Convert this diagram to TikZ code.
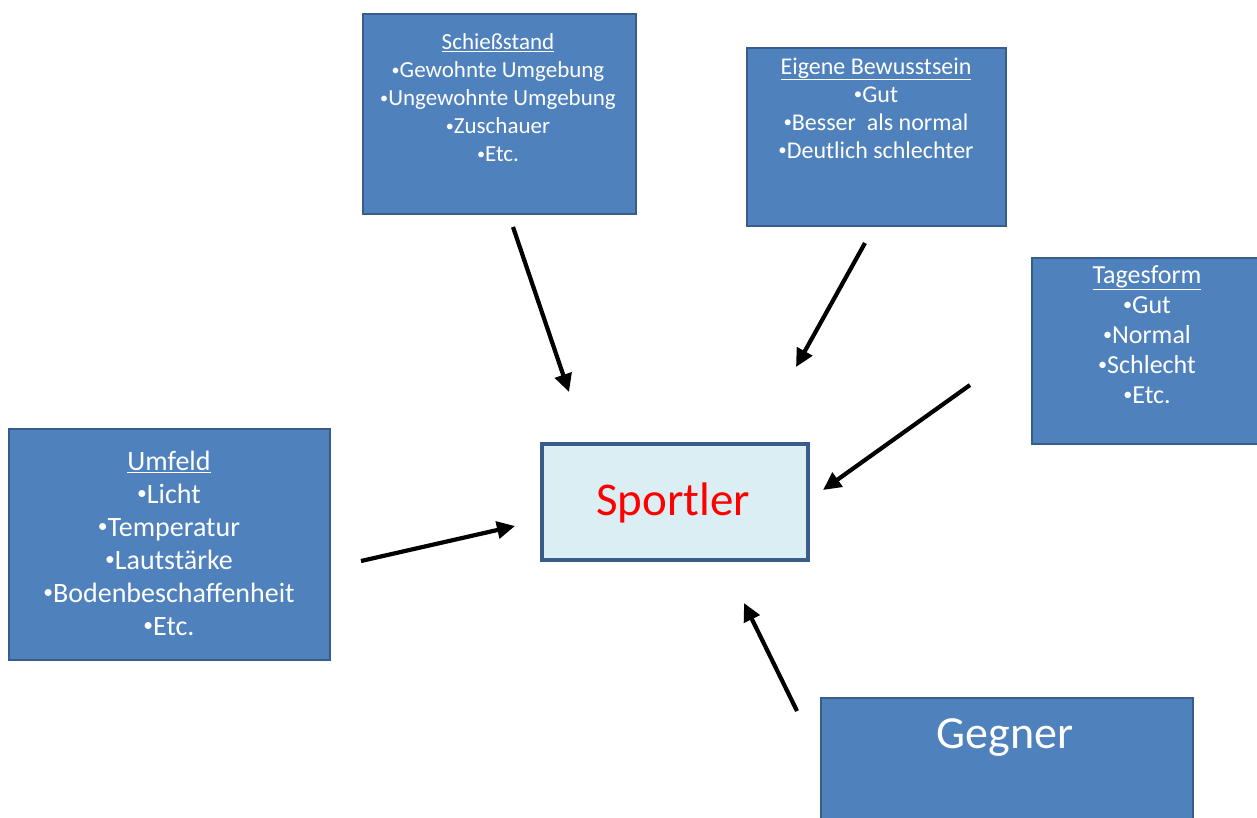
\documentclass[tikz,border=0pt]{standalone}
\usepackage{fontspec}
\usepackage{graphicx}
\setmainfont{Carlito}
\usetikzlibrary{arrows.meta}
\definecolor{boxblue}{HTML}{4F81BD}
\definecolor{boxedge}{HTML}{385D8A}
\definecolor{lightfill}{HTML}{DBEEF4}
\definecolor{sportred}{HTML}{FF0000}
\newcommand\mybul{\raisebox{0.12em}{\scalebox{0.7}{•}}}
\tikzset{
  bluebox/.style={draw=boxedge, line width=2pt, fill=boxblue, text=white, anchor=north west, inner sep=0pt},
  boxtext/.style={text=white, align=center, inner sep=0pt},
  arr/.style={line width=4.2pt, -{Triangle[length=18pt,width=17pt]}},
}
\begin{document}
\begin{tikzpicture}[x=1pt,y=-1pt]
\useasboundingbox (0,0) rectangle (1257,818);
% boxes
\node[bluebox, minimum width=273pt, minimum height=200pt] (schiess) at (362,13) {};
\node[boxtext, font=\fontsize{23}{28}\selectfont] (schiesstxt) at (498,98)
  {\underline{Schießstand}\\\mybul Gewohnte Umgebung\\\mybul Ungewohnte Umgebung\\\mybul Zuschauer\\\mybul Etc.};

\node[bluebox, minimum width=259pt, minimum height=178pt] (eigen) at (746,47) {};
\node[boxtext, font=\fontsize{24}{28}\selectfont] (eigentxt) at (876,108)
  {\underline{Eigene Bewusstsein}\\\mybul Gut\\\mybul Besser\ \ als normal\\\mybul Deutlich schlechter};

\begin{scope}
\clip (0,0) rectangle (1257,818);
\node[bluebox, minimum width=240pt, minimum height=186pt] (tages) at (1031,257) {};
\node[bluebox, minimum width=372pt, minimum height=140pt] (gegner) at (820,697) {};
\end{scope}
\node[boxtext, font=\fontsize{26}{30}\selectfont] (tagestxt) at (1147,335)
  {\underline{Tagesform}\\\mybul Gut\\\mybul Normal\\\mybul Schlecht\\\mybul Etc.};
\node[boxtext, font=\fontsize{46}{48}\selectfont] (gegnertxt) at (1005,738) {Gegner};

\node[bluebox, minimum width=321pt, minimum height=231pt] (umfeld) at (8,428) {};
\node[boxtext, font=\fontsize{28}{33}\selectfont] (umfeldtxt) at (169,543)
  {\underline{Umfeld}\\\mybul Licht\\\mybul Temperatur\\\mybul Lautstärke\\\mybul Bodenbeschaffenheit\\\mybul Etc.};

\node[draw=boxedge, line width=4pt, fill=lightfill, minimum width=266pt, minimum height=116pt, anchor=north west] (sportler) at (540,442) {};
\node[font=\fontsize{47}{48}\selectfont, text=sportred] (sportlertxt) at (673,503) {Sportler};

% arrow end points
\coordinate (a1s) at (513,227); \coordinate (a1e) at (569,392);
\coordinate (a2s) at (865,243); \coordinate (a2e) at (796,367);
\coordinate (a3s) at (970,385); \coordinate (a3e) at (823,490);
\coordinate (a4s) at (361,561); \coordinate (a4e) at (515,526);
\coordinate (a5s) at (797,711); \coordinate (a5e) at (744,603);

\draw[arr] (a1s) -- (a1e);
\draw[arr] (a2s) -- (a2e);
\draw[arr] (a3s) -- (a3e);
\draw[arr] (a4s) -- (a4e);
\draw[arr] (a5s) -- (a5e);
\end{tikzpicture}
\end{document}
